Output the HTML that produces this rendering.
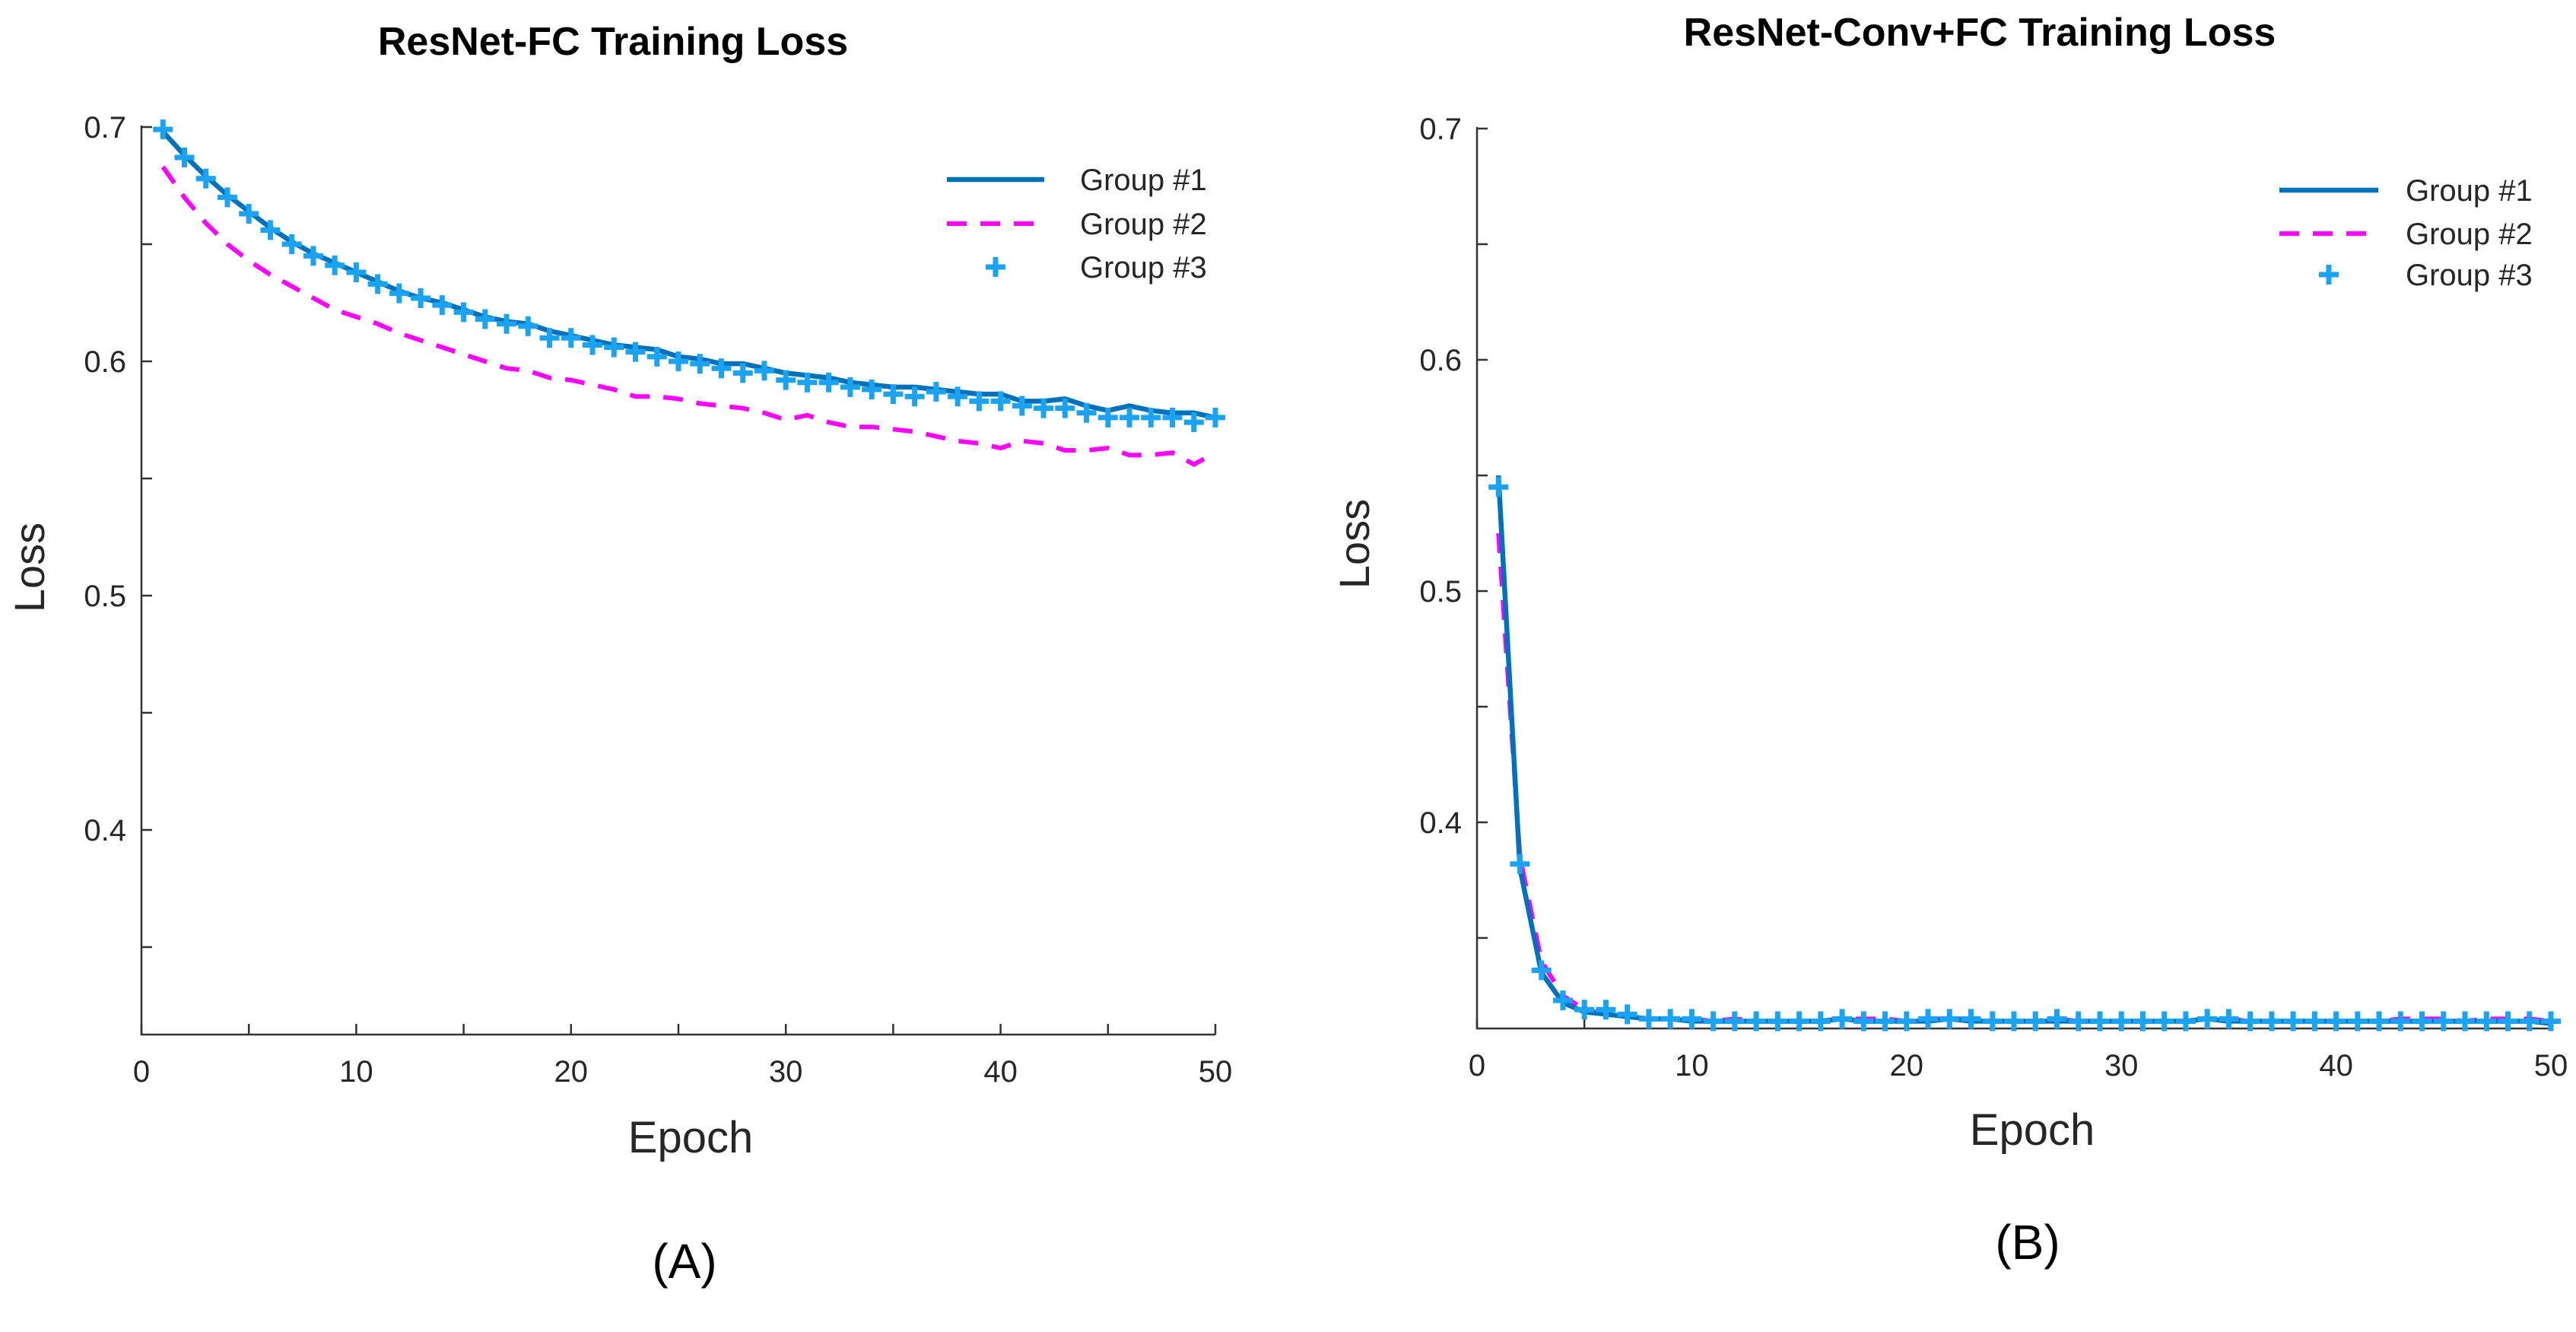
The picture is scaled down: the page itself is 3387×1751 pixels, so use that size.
<!DOCTYPE html>
<html><head><meta charset="utf-8">
<style>
html,body{margin:0;padding:0;background:#fff;overflow:hidden;}
svg{display:block;font-family:"Liberation Sans",Arial,sans-serif;}
</style></head>
<body>
<svg id="fig" width="3387" height="1751" viewBox="0 0 3387 1751"></svg>
<script>
const epochs = Array.from({length:50},(_,i)=>i+1);
const xTicks = [0,10,20,30,40,50];
const yTicks = [0.4,0.5,0.6,0.7];
const aG1 = [0.698,0.688,0.679,0.671,0.664,0.657,0.651,0.646,0.642,0.638,0.634,0.630,0.627,0.625,0.622,0.619,0.617,0.616,0.613,0.611,0.609,0.607,0.606,0.605,0.602,0.601,0.599,0.599,0.597,0.595,0.594,0.593,0.591,0.590,0.589,0.589,0.588,0.587,0.586,0.586,0.583,0.583,0.584,0.581,0.579,0.581,0.579,0.578,0.578,0.576];
const aG2 = [0.683,0.670,0.659,0.650,0.643,0.637,0.632,0.627,0.622,0.619,0.616,0.612,0.609,0.606,0.603,0.600,0.597,0.596,0.593,0.592,0.590,0.588,0.585,0.585,0.584,0.582,0.581,0.580,0.578,0.575,0.577,0.574,0.572,0.572,0.571,0.570,0.568,0.566,0.565,0.563,0.566,0.565,0.562,0.562,0.563,0.560,0.560,0.561,0.556,0.561];
const aG3 = [0.699,0.687,0.678,0.670,0.663,0.656,0.650,0.645,0.641,0.638,0.633,0.629,0.627,0.624,0.621,0.618,0.616,0.615,0.610,0.610,0.607,0.606,0.604,0.602,0.600,0.599,0.597,0.595,0.596,0.592,0.591,0.591,0.589,0.588,0.586,0.585,0.587,0.585,0.583,0.583,0.581,0.580,0.580,0.578,0.576,0.576,0.576,0.576,0.574,0.576];
const bG1 = [0.550,0.380,0.335,0.322,0.318,0.317,0.316,0.315,0.315,0.314,0.314,0.314,0.314,0.314,0.314,0.314,0.315,0.314,0.314,0.314,0.314,0.315,0.314,0.314,0.314,0.314,0.314,0.314,0.314,0.314,0.314,0.314,0.314,0.315,0.314,0.314,0.314,0.314,0.314,0.314,0.314,0.314,0.314,0.314,0.314,0.314,0.314,0.314,0.314,0.313];
const bG2 = [0.525,0.385,0.340,0.325,0.319,0.317,0.316,0.315,0.315,0.315,0.314,0.315,0.314,0.314,0.314,0.314,0.315,0.315,0.315,0.314,0.315,0.315,0.315,0.314,0.314,0.314,0.315,0.314,0.314,0.314,0.314,0.314,0.314,0.315,0.315,0.314,0.314,0.314,0.314,0.314,0.314,0.314,0.315,0.315,0.315,0.314,0.315,0.315,0.315,0.314];
const bG3 = [0.545,0.382,0.336,0.323,0.319,0.319,0.317,0.315,0.315,0.315,0.314,0.314,0.314,0.314,0.314,0.314,0.315,0.314,0.314,0.314,0.315,0.315,0.315,0.314,0.314,0.314,0.315,0.314,0.314,0.314,0.314,0.314,0.314,0.315,0.315,0.314,0.314,0.314,0.314,0.314,0.314,0.314,0.314,0.314,0.314,0.314,0.314,0.314,0.314,0.314];
const legendLabels = ["Group #1","Group #2","Group #3"];

const NS="http://www.w3.org/2000/svg";
const svg=document.getElementById('fig');
function mk(tag,attrs,parent,text){const e=document.createElementNS(NS,tag);for(const k in attrs)e.setAttribute(k,attrs[k]);if(text!==undefined)e.textContent=text;(parent||svg).appendChild(e);return e;}

const C1="#0072BD",C2="#FF00FF",C3="#1AA3F2";

function panel(cfg){
  const g=mk('g',{});
  
  
  const X=v=>cfg.x0+(v-0)/50*(cfg.x1-cfg.x0);
  const Y=v=>cfg.y07+(0.7-v)/0.1*cfg.pxPer01;
  const yMin=0.7-(cfg.yb-cfg.y07)/cfg.pxPer01*0.1;
  const ax=mk('path',{d:`M${cfg.x0},${cfg.y07-2}V${cfg.yb}H${cfg.x1}`,fill:'none',stroke:'#333',"stroke-width":2.5},g);
  
  
  for(let v=0;v<=50;v+=5){mk('line',{x1:X(v),x2:X(v),y1:cfg.yb,y2:cfg.yb-14,stroke:'#333',"stroke-width":2.5},g);}
  for(let k=0;k<20;k++){const v=0.7-0.05*k; if(v<yMin) break; mk('line',{x1:cfg.x0,x2:cfg.x0+14,y1:Y(v),y2:Y(v),stroke:'#333',"stroke-width":2.5},g);}
  xTicks.forEach(v=>{const t=mk('text',{x:X(v),y:cfg.yb+62,"text-anchor":"middle","font-size":40,fill:'#262626'},g,String(v));
    
    });
  yTicks.forEach(v=>{const t=mk('text',{x:cfg.x0-20,y:Y(v)+14,"text-anchor":"end","font-size":40,fill:'#262626'},g,v.toFixed(1));
    
    });
  const tt=mk('text',{x:cfg.tx,y:cfg.ty,"text-anchor":"middle","font-size":52,"font-weight":"bold",fill:'#000'},g,cfg.title);
  
  
  const yl=mk('text',{x:0,y:0,transform:`translate(${cfg.ylx},${cfg.yly}) rotate(-90)`,"text-anchor":"middle","font-size":56,fill:'#262626'},g,'Loss');
  
  
  const xl=mk('text',{x:cfg.xlx,y:cfg.xly,"text-anchor":"middle","font-size":58,fill:'#262626'},g,'Epoch');
  
  
  const pl=mk('text',{x:cfg.px,y:cfg.py,"text-anchor":"middle","font-size":64,fill:'#000'},g,cfg.plabel);
  
  
  const pts=a=>a.map((v,i)=>`${X(epochs[i]).toFixed(1)},${Y(v).toFixed(1)}`).join(' ');
  const l2=mk('polyline',{points:pts(cfg.g2),fill:'none',stroke:C2,"stroke-width":6,"stroke-dasharray":"26,18"},g);
  
  
  const l1=mk('polyline',{points:pts(cfg.g1),fill:'none',stroke:C1,"stroke-width":6.5,"stroke-linejoin":"round"},g);
  
  
  const mg=mk('g',{stroke:C3,"stroke-width":7},g);
  
  
  cfg.g3.forEach((v,i)=>{const cx=X(epochs[i]),cy=Y(v);
    const m=mk('path',{d:`M${cx-13},${cy}H${cx+13}M${cx},${cy-13}V${cy+13}`},mg);
    
    });
  const lg=mk('g',{},g);
  
  
  const [a,b]=cfg.legLine;
  cfg.legRows.forEach((ry,i)=>{
    if(i===0)mk('line',{x1:a,x2:b,y1:ry,y2:ry,stroke:C1,"stroke-width":6.5},lg);
    if(i===1)mk('line',{x1:a,x2:b,y1:ry,y2:ry,stroke:C2,"stroke-width":6,"stroke-dasharray":"26,18"},lg);
    if(i===2){const c=(a+b)/2;mk('path',{d:`M${c-13},${ry}H${c+13}M${c},${ry-13}V${ry+13}`,stroke:C3,"stroke-width":7},lg);}
    const t=mk('text',{x:cfg.legText,y:ry+14,"font-size":40,fill:'#262626'},lg,legendLabels[i]);
    
    
  });
}

panel({name:'panel-a',x0:186,x1:1598,y07:167,pxPer01:308,yb:1360,title:'ResNet-FC Training Loss',tx:806,ty:72,
  ylx:58,yly:746,xlx:908,xly:1515,plabel:'(A)',px:900,py:1680,g1:aG1,g2:aG2,g3:aG3,
  legLine:[1245,1373],legRows:[236,294,351],legText:1420});
panel({name:'panel-b',x0:1942,x1:3354,y07:169,pxPer01:304,yb:1352,title:'ResNet-Conv+FC Training Loss',tx:2603,ty:60,
  ylx:1800,yly:715,xlx:2672,xly:1505,plabel:'(B)',px:2666,py:1655,g1:bG1,g2:bG2,g3:bG3,
  legLine:[2997,3127],legRows:[250,307,361],legText:3163});
</script>
</body></html>
